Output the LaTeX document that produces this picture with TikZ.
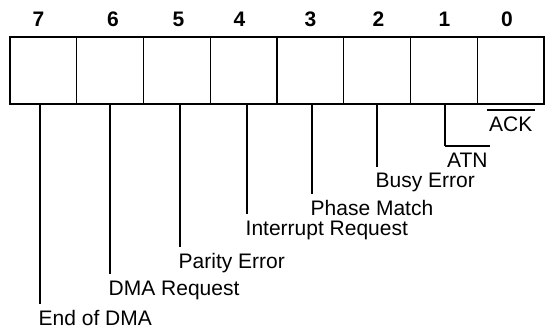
\documentclass[tikz,border=0pt]{standalone}
\usepackage{fontspec}
\setmainfont{Liberation Sans}
\begin{document}
\begin{tikzpicture}[x=1pt,y=-1pt,
  cell/.style={draw,line width=1.3pt,minimum width=66.75pt,minimum height=67pt,inner sep=0pt,outer sep=0pt,anchor=north west},
  bitnum/.style={font=\fontsize{21}{25}\selectfont\bfseries,anchor=base,inner sep=0pt},
  lbl/.style={font=\fontsize{21}{25}\selectfont,anchor=base west,inner xsep=0pt,inner ysep=5.5pt,text height=15pt,text depth=0pt},
  sig/.style={lbl,inner xsep=2pt,inner ysep=6.5pt},
  leader/.style={line width=1.1pt},
  bar/.style={line width=1.8pt}]
\useasboundingbox (0,0) rectangle (546,331);
% register cells
\foreach \b/\k in {7/0,6/1,5/2,4/3,3/4,2/5,1/6,0/7}
  \node[cell] (c\b) at ({10+66.75*\k},37) {};
% bit numbers
\foreach \b/\x in {7/38.5,6/113,5/178.5,4/239.5,3/310.5,2/378.5,1/444.5,0/507}
  \node[bitnum] (n\b) at (\x,27) {\b};
% leader start points on the bottom edge of the register
\foreach \b/\x in {7/40,6/110,5/180,4/247,3/312,2/377,1/445}
  \coordinate (t\b) at (\x,104);
% labels
\node[lbl] (l7) at (38.5,325) {End of DMA};
\node[lbl] (l6) at (108.5,295) {DMA Request};
\node[lbl] (l5) at (178.5,268) {Parity Error};
\node[lbl] (l4) at (245.5,235) {Interrupt Request};
\node[lbl] (l3) at (310.5,215) {Phase Match};
\node[lbl] (l2) at (375.5,188) {Busy Error};
\node[sig] (l1) at (445,168) {ATN};
\node[sig] (l0) at (487,132) {ACK};
% leaders
\foreach \b in {7,6,5,4,3,2,1}
  \draw[leader] (t\b) -- (t\b |- l\b.north);
% overbars of the active-low signals
\draw[bar] (l1.north west) -- (l1.north east);
\draw[bar] (l0.north west) -- (l0.north east);
\end{tikzpicture}
\end{document}
